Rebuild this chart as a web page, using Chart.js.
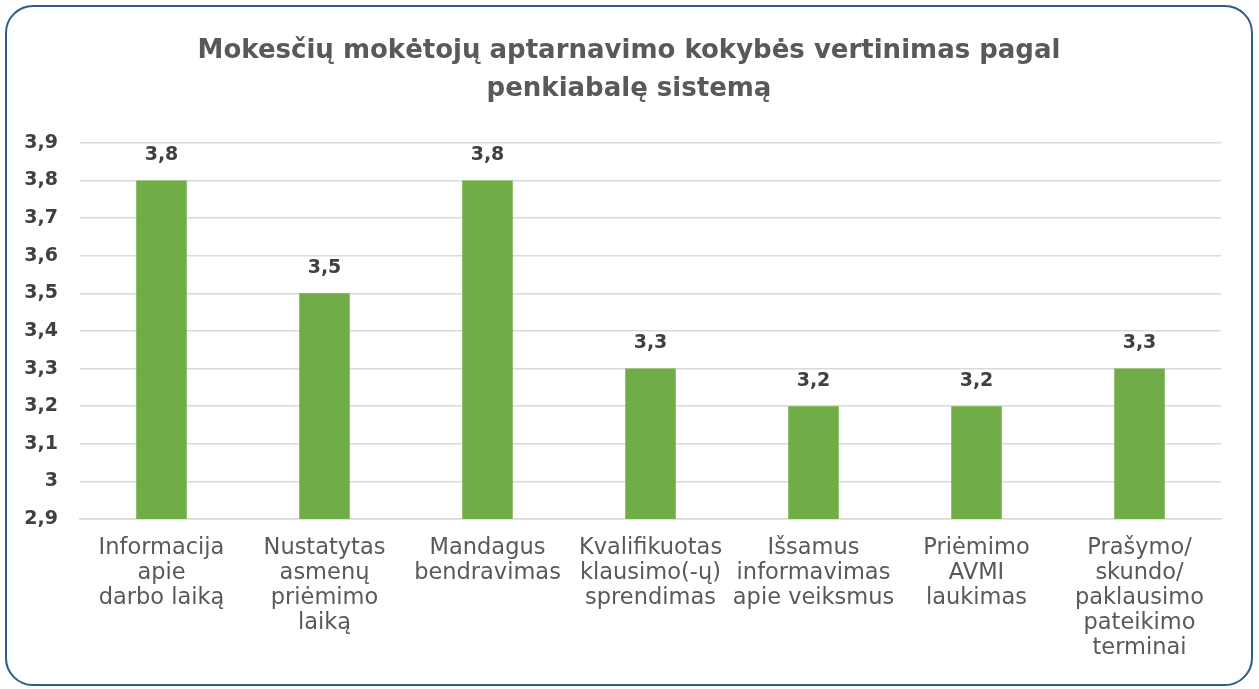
<!DOCTYPE html>
<html>
<head>
<meta charset="utf-8">
<script src="https://cdn.jsdelivr.net/npm/chart.js@4.4.1/dist/chart.umd.min.js"></script>
<style>
    html, body { margin: 0; padding: 0; background: #ffffff; }
    #box {
        position: absolute;
        left: 5px; top: 5px;
        width: 1244px; height: 677px;
        border: 2px solid #2b5c8c;
        border-radius: 28px;
        overflow: hidden;
    }
    #box canvas { display: block; }
</style>
</head>
<body>
<div id="box"><canvas id="qualityChart" width="1244" height="677"></canvas></div>
<script>
// Chart data
const categories = [
    ['Informacija', 'apie', 'darbo laiką'],
    ['Nustatytas', 'asmenų', 'priėmimo', 'laiką'],
    ['Mandagus', 'bendravimas'],
    ['Kvalifikuotas', 'klausimo(-ų)', 'sprendimas'],
    ['Išsamus', 'informavimas', 'apie veiksmus'],
    ['Priėmimo', 'AVMI', 'laukimas'],
    ['Prašymo/', 'skundo/', 'paklausimo', 'pateikimo', 'terminai']
];
const scores = [3.8, 3.5, 3.8, 3.3, 3.2, 3.2, 3.3];
const yMin = 2.9;
const yMax = 3.9;
const yStep = 0.1;

const chartTitle = ['Mokesčių mokėtojų aptarnavimo kokybės vertinimas pagal', 'penkiabalę sistemą'];

function lt(v) {
    return Number(v.toFixed(1)).toString().replace('.', ',');
}

// simple value labels above bars
const barLabels = {
    id: 'barLabels',
    afterDatasetsDraw(chart) {
        const ctx = chart.ctx;
        const meta = chart.getDatasetMeta(0);
        ctx.save();
        ctx.font = 'bold 19px "DejaVu Sans"';
        ctx.fillStyle = '#404040';
        ctx.textAlign = 'center';
        ctx.textBaseline = 'bottom';
        meta.data.forEach(function(bar, i) {
            ctx.fillText(lt(scores[i]), bar.x, bar.y - 16);
        });
        ctx.restore();
    }
};

const ctx = document.getElementById('qualityChart').getContext('2d');
new Chart(ctx, {
    type: 'bar',
    data: {
        labels: categories,
        datasets: [{
            data: scores,
            backgroundColor: '#70ad47',
            barPercentage: 0.62,
            categoryPercentage: 0.5
        }]
    },
    options: {
        responsive: false,
        animation: false,
        layout: {
            padding: { left: 15, right: 15, top: 0, bottom: 0 }
        },
        plugins: {
            legend: { display: false },
            tooltip: { enabled: false },
            title: {
                display: true,
                text: chartTitle,
                color: '#595959',
                font: { family: '"DejaVu Sans"', size: 26, weight: 'bold', lineHeight: 1.46 },
                padding: { top: 25, bottom: 35 }
            }
        },
        scales: {
            x: {
                grid: { display: false, drawTicks: false },
                border: { color: '#d9d9d9', width: 1.5 },
                ticks: {
                    color: '#595959',
                    font: { family: '"DejaVu Sans"', size: 22.5, lineHeight: 1.11 },
                    padding: 17,
                    maxRotation: 0,
                    autoSkip: false
                },
                afterFit(scale) { scale.height = 165; }
            },
            y: {
                min: yMin,
                max: yMax,
                grid: { color: '#d9d9d9', lineWidth: 1.5, drawTicks: false },
                border: { display: false },
                ticks: {
                    stepSize: yStep,
                    color: '#404040',
                    font: { family: '"DejaVu Sans"', size: 19, weight: 'bold' },
                    padding: 22,
                    callback: function(v) { return lt(v); }
                },
                afterFit(scale) { scale.width = 58; }
            },
            // empty right-hand spacer so the title stays centred on the box
            yRight: {
                type: 'linear',
                position: 'right',
                grid: { display: false, drawTicks: false },
                border: { display: false },
                ticks: { display: false },
                afterFit(scale) { scale.width = 15; }
            }
        }
    },
    plugins: [barLabels]
});
</script>
</body>
</html>
